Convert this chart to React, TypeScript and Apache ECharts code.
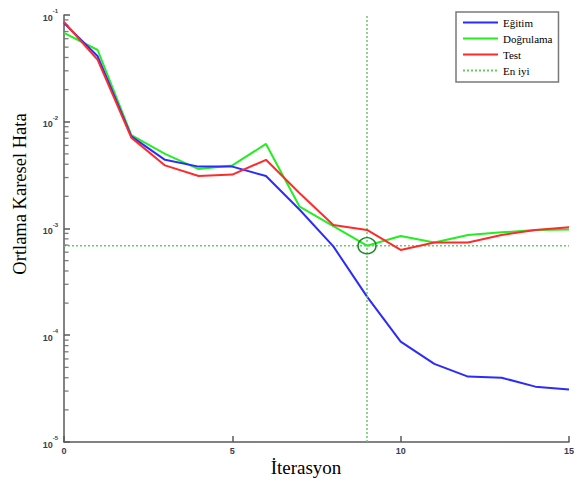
import React, { useEffect, useRef } from "react";
import * as echarts from "echarts";

const iterations = [0, 1, 2, 3, 4, 5, 6, 7, 8, 9, 10, 11, 12, 13, 14, 15];
const egitim = [0.084, 0.041, 0.0073, 0.0044, 0.0038, 0.0038, 0.0031, 0.0015, 0.00068, 0.00023, 0.000087, 0.000054, 0.000041, 0.00004, 0.000033, 0.000031];
const dogrulama = [0.068, 0.047, 0.0075, 0.005, 0.0036, 0.0039, 0.0062, 0.0016, 0.00105, 0.00069, 0.00085, 0.00074, 0.00087, 0.00092, 0.00097, 0.00098];
const test = [0.086, 0.038, 0.0071, 0.0039, 0.0031, 0.0032, 0.0044, 0.00214, 0.00108, 0.00097, 0.00063, 0.00074, 0.00074, 0.00087, 0.00097, 0.00103];
const bestIter = 9;
const bestValue = 0.00069;
const seriesNames = ["Eğitim", "Doğrulama", "Test", "En iyi"];
const xTitle = "İterasyon";
const yTitle = "Ortlama Karesel Hata";
const yMin = 1e-5;
const yMax = 1e-1;
const decadeMultipliers = [2, 3, 4, 5, 6, 7, 8, 9];
const decadeExponents = [-5, -4, -3, -2];

const minorTickValues: number[] = [];
decadeExponents.forEach((e) => decadeMultipliers.forEach((m) => minorTickValues.push(m * Math.pow(10, e))));

export default function App() {
  const ref = useRef<HTMLDivElement>(null);
  useEffect(() => {
    if (!ref.current) return;
    const chart = echarts.init(ref.current, undefined, { renderer: "svg" });
    const pairs = (arr: number[]) => iterations.map((x, i) => [x, arr[i]]);
    const axisColor = "#5a5a5a";
    const labelColor = "#3c3c50";
    chart.setOption({
      animation: false,
      backgroundColor: "#ffffff",
      grid: { left: 64, right: 10, top: 15, bottom: 43, containLabel: false },
      legend: {
        left: 456,
        top: 12,
        orient: "vertical",
        data: seriesNames,
        itemWidth: 35,
        itemHeight: 12,
        itemGap: 5,
        padding: [5, 6, 6, 6],
        backgroundColor: "#ffffff",
        borderColor: "#7a7a7a",
        borderWidth: 1.5,
        itemStyle: { opacity: 0 },
        textStyle: { fontFamily: "Liberation Serif", fontSize: 11, color: "#000" },
      },
      graphic: [
        {
          type: "text",
          x: 306,
          y: 467,
          style: { text: xTitle, fontFamily: "Liberation Serif", fontSize: 19, fill: "#000", align: "center", verticalAlign: "middle" },
        },
        {
          type: "text",
          x: 20,
          y: 194,
          rotation: Math.PI / 2,
          style: { text: yTitle, fontFamily: "Liberation Serif", fontSize: 18.5, fill: "#000", align: "center", verticalAlign: "middle" },
        },
      ],
      xAxis: {
        type: "value",
        min: 0,
        max: 15,
        interval: 5,
        axisLine: { show: true, lineStyle: { color: axisColor, width: 1.5 } },
        axisTick: { show: true, inside: true, length: 6, lineStyle: { color: axisColor, width: 1.5 } },
        axisLabel: { fontFamily: "Liberation Sans", fontSize: 9, fontWeight: "bold", color: labelColor, margin: 4 },
        splitLine: { show: false },
      },
      yAxis: {
        type: "log",
        logBase: 10,
        min: yMin,
        max: yMax,
        axisLine: { show: true, lineStyle: { color: axisColor, width: 1.5 } },
        axisTick: { show: true, inside: true, length: 6, lineStyle: { color: axisColor, width: 1.5 } },
        axisLabel: {
          margin: 6,
          formatter: (v: number) => `{b|10}{s|${Math.round(Math.log10(v))}}`,
          rich: {
            b: { fontFamily: "Liberation Sans", fontSize: 9, fontWeight: "bold", color: labelColor, verticalAlign: "bottom", lineHeight: 14 },
            s: { fontFamily: "Liberation Sans", fontSize: 6, fontWeight: "bold", color: labelColor, verticalAlign: "top", lineHeight: 14 },
          },
        },
        splitLine: { show: false },
      },
      series: [
        {
          name: "minorTicks",
          type: "scatter",
          data: minorTickValues.map((v) => [0, v]),
          symbol: "rect",
          symbolSize: [4, 1.3],
          symbolOffset: [2.5, 0],
          itemStyle: { color: axisColor },
          silent: true,
          clip: false,
          z: 10,
        },
        {
          name: seriesNames[0],
          type: "line",
          data: pairs(egitim),
          symbol: "none",
          lineStyle: { color: "#2b2bff", width: 2 },
          itemStyle: { color: "#2b2bff" },
          z: 4,
        },
        {
          name: seriesNames[1],
          type: "line",
          data: pairs(dogrulama),
          symbol: "none",
          lineStyle: { color: "#22ee22", width: 2 },
          itemStyle: { color: "#22ee22" },
          z: 3,
          markPoint: {
            silent: true,
            symbol: "circle",
            symbolSize: [18, 16],
            itemStyle: { color: "rgba(0,0,0,0)", borderColor: "#1e8a2a", borderWidth: 1.5 },
            label: { show: false },
            data: [{ coord: [bestIter, bestValue] }],
          },
        },
        {
          name: seriesNames[2],
          type: "line",
          data: pairs(test),
          symbol: "none",
          lineStyle: { color: "#ff2b2b", width: 2 },
          itemStyle: { color: "#ff2b2b" },
          z: 5,
        },
        {
          name: seriesNames[3],
          type: "line",
          data: [[0, bestValue], [15, bestValue]],
          symbol: "none",
          lineStyle: { color: "#66cc66", width: 1.5, type: [2, 2] },
          itemStyle: { color: "#66cc66" },
          z: 2,
          markLine: {
            silent: true,
            symbol: ["none", "none"],
            label: { show: false },
            lineStyle: { color: "#66cc66", width: 1.5, type: [2, 2] },
            data: [{ xAxis: bestIter }],
          },
        },
      ],
    });
    return () => chart.dispose();
  }, []);
  return <div ref={ref} style={{ position: "absolute", left: 0, top: 0, width: 579, height: 485 }} />;
}
